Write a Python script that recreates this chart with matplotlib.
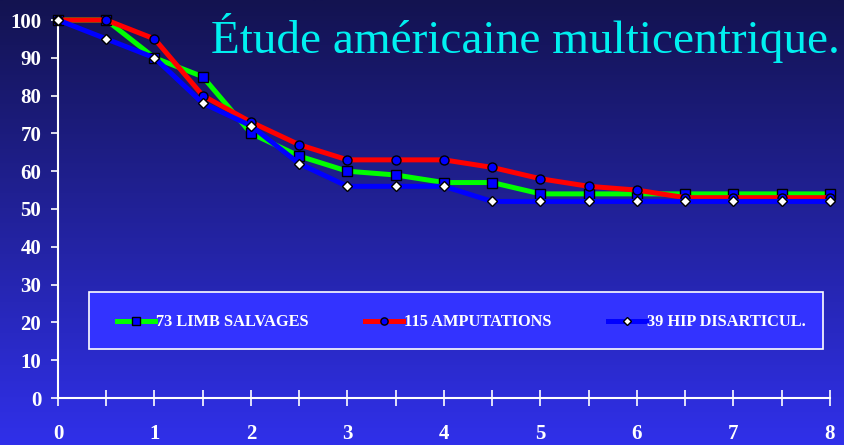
import numpy as np
import matplotlib
matplotlib.use("Agg")
import matplotlib.pyplot as plt
from matplotlib.colors import LinearSegmentedColormap
from matplotlib.patches import Rectangle

years = [0, 0.5, 1, 1.5, 2, 2.5, 3, 3.5, 4, 4.5, 5, 5.5, 6, 6.5, 7, 7.5, 8]
limb_salvages = [100, 100, 90, 85, 70, 64, 60, 59, 57, 57, 54, 54, 54, 54, 54, 54, 54]
amputations = [100, 100, 95, 80, 73, 67, 63, 63, 63, 61, 58, 56, 55, 53, 53, 53, 53]
hip_disarticul = [100, 95, 90, 78, 72, 62, 56, 56, 56, 52, 52, 52, 52, 52, 52, 52, 52]
labels = ["73 LIMB SALVAGES", "115 AMPUTATIONS", "39 HIP DISARTICUL."]
title = "Étude américaine multicentrique."
xticks = [0, 1, 2, 3, 4, 5, 6, 7, 8]
yticks = [0, 10, 20, 30, 40, 50, 60, 70, 80, 90, 100]

W, H = 845, 445
fig = plt.figure(figsize=(W / 100, H / 100), dpi=100)

# gradient background
bg = fig.add_axes([0, 0, 1, 1], zorder=-10)
cmap = LinearSegmentedColormap.from_list("bg", ["#131350", "#22229c", "#3030ea"])
grad = np.linspace(0, 1, 256).reshape(-1, 1)
bg.imshow(grad, aspect="auto", cmap=cmap, extent=[0, 1, 0, 1], origin="upper")
bg.set_axis_off()

ax = fig.add_axes([58 / W, 47 / H, 772 / W, 378 / H])
ax.patch.set_alpha(0)
serif = ["Liberation Serif", "DejaVu Serif"]

lw = 3.6
h1, = ax.plot(years, limb_salvages, color="#00ff00", lw=lw, marker="s", ms=6.5,
              mfc="#0000ff", mec="black", mew=1.0, label=labels[0], clip_on=False, zorder=3)
h2, = ax.plot(years, amputations, color="#ff0000", lw=lw, marker="o", ms=6.5,
              mfc="#0000ff", mec="black", mew=1.0, label=labels[1], clip_on=False, zorder=4)
h3, = ax.plot(years, hip_disarticul, color="#0000ff", lw=lw, marker="D", ms=5.5,
              mfc="white", mec="black", mew=1.0, label=labels[2], clip_on=False, zorder=5)

ax.set_xlim(0, 8)
ax.set_ylim(0, 100)
for s in ["top", "right"]:
    ax.spines[s].set_visible(False)
for s in ["left", "bottom"]:
    ax.spines[s].set_color("white")
    ax.spines[s].set_linewidth(1.5)

ax.set_xticks(xticks)
ax.set_xticks(np.arange(0.5, 8, 1.0), minor=True)
ax.set_yticks(yticks)
ax.tick_params(axis="x", which="both", direction="inout", length=12, width=1.2,
               color="white", pad=13)
ax.tick_params(axis="y", which="major", direction="out", length=5, width=1.2,
               color="white", pad=7)
for lab in ax.get_xticklabels() + ax.get_yticklabels():
    lab.set_fontfamily(serif)
    lab.set_fontweight("bold")
    lab.set_color("white")
    lab.set_fontsize(15)

fig.text(840 / W, (H - 53) / H, title, ha="right", va="baseline",
         color="#00f0f0", fontsize=34, family=serif)

# legend frame
fig.patches.append(Rectangle((89 / W, (H - 349) / H), (823 - 89) / W, 57 / H,
                             transform=fig.transFigure, facecolor="#3333ff",
                             edgecolor="white", linewidth=1.2, zorder=4))
leg = fig.legend([h1, h2, h3], labels, loc="center left", ncol=3, mode="expand",
                 bbox_to_anchor=(117 / W, (H - 351) / H, (806 - 117) / W, 57 / H),
                 bbox_transform=fig.transFigure, borderaxespad=0, borderpad=0,
                 frameon=False, handlelength=2.3, handletextpad=0.1, markerscale=0.8,
                 prop={"family": serif, "weight": "bold", "size": 11.8})
leg.set_zorder(5)
for t in leg.get_texts():
    t.set_color("white")

fig.savefig("out.png", dpi=100)
